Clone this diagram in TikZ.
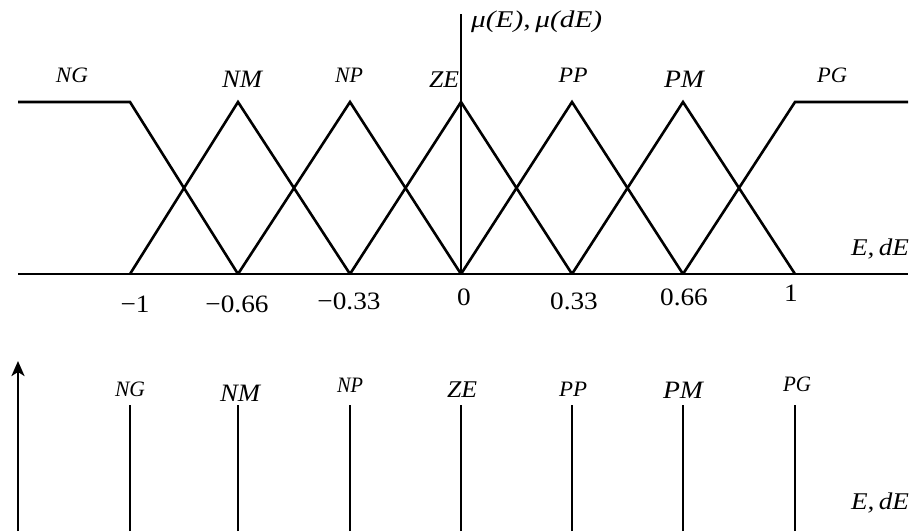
\documentclass[tikz,border=0pt]{standalone}
\usepackage{fontspec}
\setmainfont{Liberation Serif}
\usetikzlibrary{arrows.meta}
\newcommand\wbox[2]{\resizebox{#1pt}{\height}{#2}}
\begin{document}
\begin{tikzpicture}[x=1pt,y=-1pt,
  ln/.style={line width=2.6pt, line join=miter},
  lbl/.style={inner sep=0pt, font=\itshape\fontsize{25}{25}\selectfont},
  slbl/.style={inner sep=0pt, font=\itshape\fontsize{22}{22}\selectfont},
  mlbl/.style={inner sep=0pt, font=\itshape\fontsize{24}{24}\selectfont},
  num/.style={inner sep=0pt, font=\fontsize{25}{25}\selectfont}]
\useasboundingbox (0,0) rectangle (910,531);
% top axes
\coordinate (xl) at (18,274);
\coordinate (xr) at (908,274);
\coordinate (yb) at (461,274);
\coordinate (yt) at (461,14);
\draw[ln] (xl) -- (xr);
\draw[ln] (yb) -- (yt);
% base and peak coordinates
\foreach \n/\x in {a/130,b/238,c/350,d/461,e/572,f/683,g/795}{
  \coordinate (b\n) at (\x,274);
  \coordinate (p\n) at (\x,102);
}
\coordinate (ngl) at (18,102);
\coordinate (pgr) at (908,102);
\draw[ln] (ngl) -- (pa) -- (bb);
\draw[ln] (ba) -- (pb) -- (bc);
\draw[ln] (bb) -- (pc) -- (bd);
\draw[ln] (bc) -- (pd) -- (be);
\draw[ln] (bd) -- (pe) -- (bf);
\draw[ln] (be) -- (pf) -- (bg);
\draw[ln] (bf) -- (pg) -- (pgr);
% top labels
\node[slbl] (tNG) at (72,75) {\wbox{32}{NG}};
\node[lbl] (tNM) at (242,79) {\wbox{40}{NM}};
\node[slbl] (tNP) at (349,75) {\wbox{28}{NP}};
\node[mlbl] (tZE) at (444,80) {\wbox{30}{ZE}};
\node[slbl] (tPP) at (573,75) {\wbox{29}{PP}};
\node[lbl] (tPM) at (684,79) {\wbox{40}{PM}};
\node[slbl] (tPG) at (832,75) {\wbox{30}{PG}};
\node[mlbl, anchor=west] (tmu) at (471,22) {\wbox{131}{μ(E),\,μ(dE)}};
\node[mlbl] (tEdE) at (880,249) {\wbox{58}{E,\,dE}};
% numbers
\node[num] (n1) at (135,304) {\scalebox{1.09}[1]{−1}};
\node[num] (n2) at (237,304) {\scalebox{1.09}[1]{−0.66}};
\node[num] (n3) at (349,301) {\scalebox{1.09}[1]{−0.33}};
\node[num] (n4) at (464,297) {\scalebox{1.09}[1]{0}};
\node[num] (n5) at (574,301) {\scalebox{1.09}[1]{0.33}};
\node[num] (n6) at (684,297) {\scalebox{1.09}[1]{0.66}};
\node[num] (n7) at (791,293) {\scalebox{1.09}[1]{1}};
% bottom
\coordinate (ab) at (18,531);
\coordinate (at) at (18,361);
\draw[ln,-{Stealth[length=15pt,width=13pt,inset=4pt]}] (ab) -- (at);
\foreach \n/\x in {a/130,b/238,c/350,d/461,e/572,f/683,g/795}{
  \coordinate (s\n) at (\x,405);
  \coordinate (t\n) at (\x,531);
  \draw[ln] (t\n) -- (s\n);
}
\node[slbl] (bNG) at (130,389) {\wbox{30}{NG}};
\node[lbl] (bNM) at (240,393) {\wbox{40}{NM}};
\node[slbl] (bNP) at (350,385) {\wbox{26}{NP}};
\node[mlbl] (bZE) at (462,390) {\wbox{30}{ZE}};
\node[slbl] (bPP) at (573,389) {\wbox{28}{PP}};
\node[lbl] (bPM) at (683,390) {\wbox{40}{PM}};
\node[slbl] (bPG) at (797,384) {\wbox{28}{PG}};
\node[mlbl] (bEdE) at (880,503) {\wbox{58}{E,\,dE}};
\end{tikzpicture}
\end{document}
